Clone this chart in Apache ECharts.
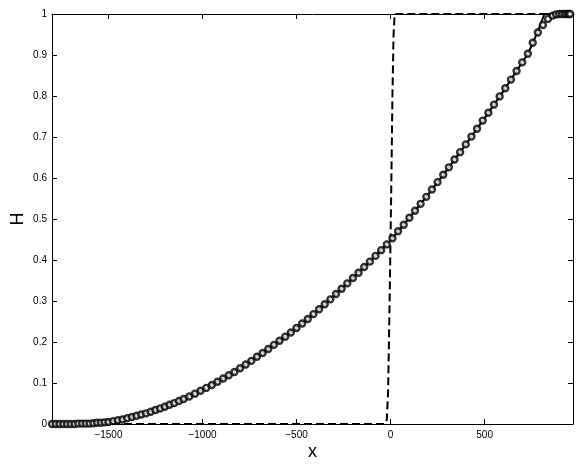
<!DOCTYPE html>
<html lang="en">
<head>
    <meta charset="UTF-8">
    <title>H(x)</title>
    <script src="https://cdn.jsdelivr.net/npm/echarts@6/dist/echarts.min.js"></script>
    <style>
        html, body { margin: 0; padding: 0; background: #fff; }
        #main { width: 581px; height: 467px; }
    </style>
</head>
<body>
<div id="main"></div>
<script type="text/javascript">
    // circle markers: x positions and H values
    var circleX = [
        -1800, -1780, -1760, -1740, -1720, -1700, -1680, -1660, -1640, -1620, -1600, -1580, -1560, -1540, -1520, -1500,
        -1475, -1450, -1425, -1400, -1375, -1350, -1325, -1300, -1275, -1250, -1225, -1200, -1175, -1150, -1125, -1100,
        -1070, -1040, -1010, -980, -950, -920, -890, -860, -830, -800, -770, -740, -710, -680, -650, -620, -590, -560,
        -530, -500, -470, -440, -410, -380, -350, -320, -290, -260, -230, -200, -170, -140, -110, -80, -50, -20,
        10, 40, 70, 100, 130, 160, 190, 220, 250, 280, 310, 340, 370, 400, 430, 460, 490, 520, 550, 580, 610, 640,
        670, 700, 730, 756, 783, 810, 837, 862, 880, 897, 912, 926, 938, 948, 955
    ];
    var circleH = [
        0.000, 0.000, 0.000, 0.000, 0.000, 0.000, 0.000, 0.001, 0.001, 0.001, 0.001, 0.002, 0.003, 0.003, 0.004, 0.005,
        0.007, 0.009, 0.011, 0.014, 0.017, 0.020, 0.023, 0.026, 0.030, 0.034, 0.038, 0.042, 0.047, 0.051, 0.056, 0.061,
        0.067, 0.074, 0.081, 0.088, 0.095, 0.103, 0.111, 0.119, 0.127, 0.136, 0.145, 0.154, 0.164, 0.173, 0.183, 0.193, 0.203, 0.213,
        0.223, 0.234, 0.245, 0.256, 0.268, 0.280, 0.292, 0.304, 0.317, 0.330, 0.343, 0.356, 0.369, 0.383, 0.396, 0.410, 0.424, 0.438,
        0.453, 0.470, 0.486, 0.503, 0.520, 0.537, 0.554, 0.572, 0.590, 0.608, 0.626, 0.645, 0.663, 0.682, 0.701, 0.720, 0.740, 0.759, 0.779, 0.799, 0.819, 0.840,
        0.861, 0.882, 0.903, 0.930, 0.955, 0.973, 0.988, 0.996, 0.999, 1.000, 1.000, 1.000, 1.000, 1.000, 1.000
    ];
    // solid curve
    var solidX = [-1800, -1600, -1500, -1400, -1300, -1200, -1100, -1000, -900, -800, -700, -600, -500, -400, -300, -200, -100,
        0, 100, 200, 300, 400, 500, 600, 700, 730, 760, 790, 818, 970];
    var solidH = [0.000, 0.001, 0.005, 0.014, 0.026, 0.042, 0.061, 0.083, 0.108, 0.136, 0.167, 0.199, 0.234, 0.272, 0.313, 0.356, 0.401,
        0.448, 0.503, 0.560, 0.620, 0.682, 0.746, 0.812, 0.882, 0.903, 0.933, 0.966, 1.000, 1.000];
    // dashed step
    var dashX = [-1800, -30, -20, -13, -5, 3, 10, 16, 22, 970];
    var dashH = [0, 0, 0.01, 0.08, 0.3, 0.55, 0.8, 0.95, 1, 1];

    var xTicks = [-1500, -1000, -500, 0, 500];

    function pairs(xs, ys) {
        var out = [];
        for (var i = 0; i < xs.length; i++) out.push([xs[i], ys[i]]);
        return out;
    }

    var font = 'Liberation Sans, Arial, Helvetica, sans-serif';
    var axisCommon = {
        axisLine: { show: true, onZero: false, lineStyle: { color: '#000', width: 1 } },
        axisTick: { show: true, inside: true, length: 5, lineStyle: { color: '#000' } },
        splitLine: { show: false }
    };

    var myChart = echarts.init(document.getElementById('main'), null, { renderer: 'canvas' });
    var option = {
        backgroundColor: '#fff',
        animation: false,
        grid: { left: 52, right: 8, top: 14, bottom: 43, containLabel: false, outerBoundsMode: 'none' },
        xAxis: [
            Object.assign({}, axisCommon, {
                type: 'value', position: 'bottom', min: -1800, max: 970,
                name: 'x', nameLocation: 'middle', nameGap: 19, nameMoveOverlap: false,
                nameTextStyle: { fontFamily: font, fontSize: 18, color: '#000' },
                axisTick: { show: true, inside: true, length: 5, customValues: xTicks, lineStyle: { color: '#000' } },
                axisLabel: {
                    customValues: xTicks, margin: 6, fontFamily: font, fontSize: 10, color: '#000',
                    formatter: function (v) { return String(v).replace('-', '\u2212'); }
                }
            }),
            Object.assign({}, axisCommon, {
                type: 'value', position: 'top', min: -1800, max: 970,
                axisTick: { show: true, inside: true, length: 5, customValues: xTicks, lineStyle: { color: '#000' } },
                axisLabel: { show: false }
            })
        ],
        yAxis: [
            Object.assign({}, axisCommon, {
                type: 'value', position: 'left', min: 0, max: 1, interval: 0.1,
                name: 'H', nameLocation: 'middle', nameGap: 25, nameRotate: 90, nameMoveOverlap: false,
                nameTextStyle: { fontFamily: font, fontSize: 18, color: '#000' },
                axisLabel: { margin: 5, fontFamily: font, fontSize: 10, color: '#000' }
            }),
            Object.assign({}, axisCommon, {
                type: 'value', position: 'right', min: 0, max: 1, interval: 0.1,
                axisLabel: { show: false }
            })
        ],
        series: [
            {
                type: 'line', data: pairs(dashX, dashH), showSymbol: false,
                lineStyle: { color: '#000', width: 2, type: [8, 4] }, z: 2
            },
            {
                type: 'line', data: pairs(solidX, solidH), showSymbol: false,
                lineStyle: { color: '#000', width: 2 }, z: 3
            },
            {
                type: 'scatter', data: pairs(circleX, circleH), symbol: 'circle', symbolSize: 6,
                itemStyle: { color: '#fff', borderColor: '#000', borderWidth: 2.4 }, z: 4, clip: false
            }
        ]
    };
    myChart.setOption(option);
</script>
</body>
</html>
